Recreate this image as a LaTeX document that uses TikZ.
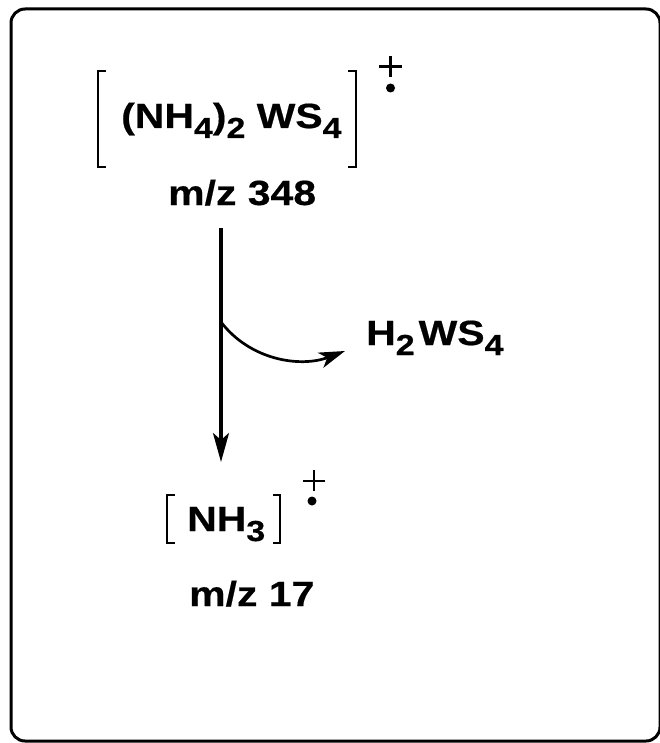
\documentclass[tikz,border=0pt]{standalone}
\usepackage{fontspec}
\newfontfamily\chemfont{Liberation Sans}[FakeStretch=1.17,FakeBold=0.5]
\usetikzlibrary{arrows.meta}
\newcommand\chsub[1]{\raisebox{-10pt}{\fontsize{29}{29}\selectfont #1}}
\tikzset{
  chem/.style={inner sep=0pt, anchor=base west, font=\chemfont\bfseries\fontsize{35}{35}\selectfont},
  brk/.style={line width=2.6pt, line cap=butt, line join=miter},
  frame/.style={line width=3pt, rounded corners=14pt},
  mainarrow/.style={line width=3.3pt, -{Stealth[length=29pt,width=16pt,inset=7pt]}},
  curvearrow/.style={line width=2.7pt, -{Stealth[length=26pt,width=16pt,inset=7pt]}},
  pm/.style={line width=2.4pt}
}
\begin{document}
\begin{tikzpicture}[x=1pt,y=-1pt]
\useasboundingbox (0,0) rectangle (659,743);
\draw[frame] (11,9) rectangle (660,741);

% precursor ion
\node[chem] (ion1) at (121,128) {(NH\chsub{4})\chsub{2} WS\chsub{4}};
\draw[brk] (106,71) -- (98,71) -- (98,167) -- (106,167);
\draw[brk] (348,71) -- (356,71) -- (356,167) -- (348,167);
\draw[pm] (379,66.5) -- (402,66.5) (390.5,56) -- (390.5,77);
\fill (390.5,88) circle (4.5pt);
\node[chem] (mz1) at (168,205) {m/z 348};

% neutral loss
\node[chem] (loss) at (366,345) {H\chsub{2}\hspace{4pt}WS\chsub{4}};

% product ion
\node[chem] (ion2) at (187,531) {NH\chsub{3}};
\draw[brk] (175,495) -- (167,495) -- (167,543) -- (175,543);
\draw[brk] (273,495) -- (280,495) -- (280,543) -- (273,543);
\draw[pm] (303,481) -- (325,481) (314,470) -- (314,491);
\fill (312,501) circle (4.5pt);
\node[chem] (mz2) at (189,606) {m/z 17};

% arrows
\coordinate (top) at (221,228);
\coordinate (tip) at (221,462);
\coordinate (branch) at (221,322);
\coordinate (lossend) at (345,351);
\draw[mainarrow] (top) -- (tip);
\draw[curvearrow] (branch) .. controls (250,360) and (300,368) .. (lossend);
\end{tikzpicture}
\end{document}
